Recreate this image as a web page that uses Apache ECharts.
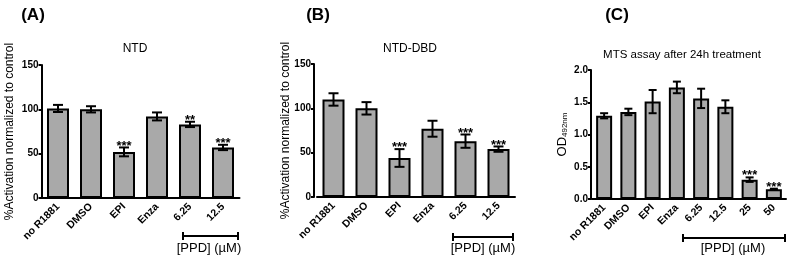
<!DOCTYPE html>
<html>
<head>
<meta charset="utf-8">
<script src="https://cdn.jsdelivr.net/npm/echarts@6/dist/echarts.min.js"></script>
<style>
  html, body { margin: 0; padding: 0; background: #fff; }
  #main { width: 789px; height: 260px; }
</style>
</head>
<body>
<div id="main"></div>
<script>
var dom = document.getElementById("main");
var myChart = echarts.init(dom, null, { renderer: 'canvas' });

// data
const catsAB = ['no R1881', 'DMSO', 'EPI', 'Enza', '6.25', '12.5'];
const catsC = ['no R1881', 'DMSO', 'EPI', 'Enza', '6.25', '12.5', '25', '50'];

const ntdMean = [101, 100, 52, 92, 83, 57];
const ntdErr = [4, 3.5, 5, 4.5, 3, 3];
const ntdSig = ['', '', '***', '', '**', '***'];

const dbdMean = [110, 100, 44, 77, 63, 54];
const dbdErr = [7, 7, 10, 9, 7.5, 3];
const dbdSig = ['', '', '***', '', '***', '***'];

const mtsMean = [1.29, 1.35, 1.51, 1.73, 1.56, 1.43, 0.30, 0.15];
const mtsErr = [0.04, 0.05, 0.18, 0.09, 0.15, 0.10, 0.035, 0.01];
const mtsSig = ['', '', '', '', '', '', '***', '***'];

const FONT = 'Liberation Sans';
const NARROW = '"Liberation Sans Narrow", "Liberation Sans"';
const barColor = '#a9a9a9';

function errSeries(idx, mean, err, sig, cap) {
  return {
    type: 'custom',
    xAxisIndex: idx,
    yAxisIndex: idx,
    z: 5,
    data: mean.map(function (m, i) { return [i, m, err[i]]; }),
    renderItem: function (params, api) {
      var i = api.value(0), m = api.value(1), e = api.value(2);
      var hi = api.coord([i, m + e]);
      var lo = api.coord([i, m - e]);
      var st = { stroke: '#000', lineWidth: 2 };
      var ch = [
        { type: 'line', shape: { x1: hi[0], y1: hi[1], x2: lo[0], y2: lo[1] }, style: st },
        { type: 'line', shape: { x1: hi[0] - cap, y1: hi[1], x2: hi[0] + cap, y2: hi[1] }, style: st },
        { type: 'line', shape: { x1: lo[0] - cap, y1: lo[1], x2: lo[0] + cap, y2: lo[1] }, style: st }
      ];
      var s = sig[params.dataIndex];
      if (s) {
        ch.push({
          type: 'text',
          style: {
            text: s, x: hi[0], y: hi[1] + 5, align: 'center', verticalAlign: 'bottom',
            fill: '#000', font: 'bold 13px ' + FONT
          }
        });
      }
      return { type: 'group', children: ch };
    }
  };
}

function barSeries(idx, mean, w) {
  return {
    type: 'bar',
    xAxisIndex: idx,
    yAxisIndex: idx,
    barWidth: w,
    data: mean,
    itemStyle: { color: barColor, borderColor: '#000', borderWidth: 2 },
    silent: true
  };
}

function xAx(idx, cats) {
  return {
    type: 'category',
    gridIndex: idx,
    data: cats,
    axisLine: { lineStyle: { color: '#000', width: 2 } },
    axisTick: { alignWithLabel: true, length: 4, lineStyle: { color: '#000', width: 2 } },
    axisLabel: { rotate: 45, color: '#000', fontFamily: FONT, fontWeight: 'bold', fontSize: 10.5, margin: 7, interval: 0 }
  };
}

function yAx(idx, min, max, interval, name, gap, offset, fmt) {
  return {
    type: 'value',
    gridIndex: idx,
    min: min, max: max, interval: interval,
    offset: offset,
    name: name,
    nameLocation: 'middle',
    nameGap: gap,
    nameMoveOverlap: false,
    nameTextStyle: {
      color: '#000', fontFamily: FONT, fontSize: 12,
      rich: {
        a: { fontFamily: FONT, fontSize: 13, color: '#000' },
        b: { fontFamily: FONT, fontSize: 8, color: '#000', verticalAlign: 'bottom', padding: [6, 0, 0, 0] }
      }
    },
    splitLine: { show: false },
    axisLine: { show: true, lineStyle: { color: '#000', width: 2 } },
    axisTick: { show: true, length: 3, lineStyle: { color: '#000', width: 2 } },
    axisLabel: { color: '#000', fontFamily: NARROW, fontWeight: 'bold', fontSize: 10, margin: 3, formatter: fmt }
  };
}

var option = {
  animation: false,
  backgroundColor: '#fff',
  title: [
    { text: '(A)', left: 28, top: 2, textAlign: 'center', textStyle: { fontFamily: FONT, fontWeight: 'bold', fontSize: 17, color: '#000' } },
    { text: '(B)', left: 313, top: 2, textAlign: 'center', textStyle: { fontFamily: FONT, fontWeight: 'bold', fontSize: 17, color: '#000' } },
    { text: '(C)', left: 612, top: 2, textAlign: 'center', textStyle: { fontFamily: FONT, fontWeight: 'bold', fontSize: 17, color: '#000' } },
    { text: 'NTD', left: 130, top: 38, textAlign: 'center', textStyle: { fontFamily: FONT, fontWeight: 'normal', fontSize: 12, color: '#000' } },
    { text: 'NTD-DBD', left: 405, top: 38, textAlign: 'center', textStyle: { fontFamily: FONT, fontWeight: 'normal', fontSize: 12, color: '#000' } },
    { text: 'MTS assay after 24h treatment', left: 677, top: 44, textAlign: 'center', textStyle: { fontFamily: FONT, fontWeight: 'normal', fontSize: 11.5, color: '#000' } }
  ],
  grid: [
    { left: 41.5, top: 65, width: 198, height: 133 },
    { left: 317, top: 64, width: 198, height: 133 },
    { left: 592, top: 70, width: 194, height: 129 }
  ],
  xAxis: [xAx(0, catsAB), xAx(1, catsAB), xAx(2, catsC)],
  yAxis: [
    yAx(0, 0, 150, 50, '%Activation normalized to control', 26, 0),
    yAx(1, 0, 150, 50, '%Activation normalized to control', 22, 3),
    yAx(2, 0, 2, 0.5, '{a|OD}{b|492nm}', 22, 1, function (v) { return v.toFixed(1); })
  ],
  series: [
    barSeries(0, ntdMean, 22),
    errSeries(0, ntdMean, ntdErr, ntdSig, 5),
    barSeries(1, dbdMean, 22),
    errSeries(1, dbdMean, dbdErr, dbdSig, 5),
    barSeries(2, mtsMean, 16),
    errSeries(2, mtsMean, mtsErr, mtsSig, 4)
  ]
};

// [PPD] brackets under the x axes (annotation only)
function bracket(x1, x2, y, lx, ly) {
  var st = { stroke: '#000', lineWidth: 2 };
  return [
    { type: 'line', shape: { x1: x1, y1: y, x2: x2, y2: y }, style: st },
    { type: 'line', shape: { x1: x1, y1: y - 4, x2: x1, y2: y + 4 }, style: st },
    { type: 'line', shape: { x1: x2, y1: y - 4, x2: x2, y2: y + 4 }, style: st },
    { type: 'text', x: lx, y: ly, style: { text: '[PPD] (\u00b5M)', align: 'center', verticalAlign: 'middle', font: '13px ' + FONT, fill: '#000' } }
  ];
}
option.graphic = [].concat(
  bracket(183, 238, 236, 209, 248),
  bracket(453, 513, 237, 483, 248),
  bracket(683, 785, 238, 733, 248)
);

if (option && typeof option === 'object') {
  myChart.setOption(option);
}
</script>
</body>
</html>
